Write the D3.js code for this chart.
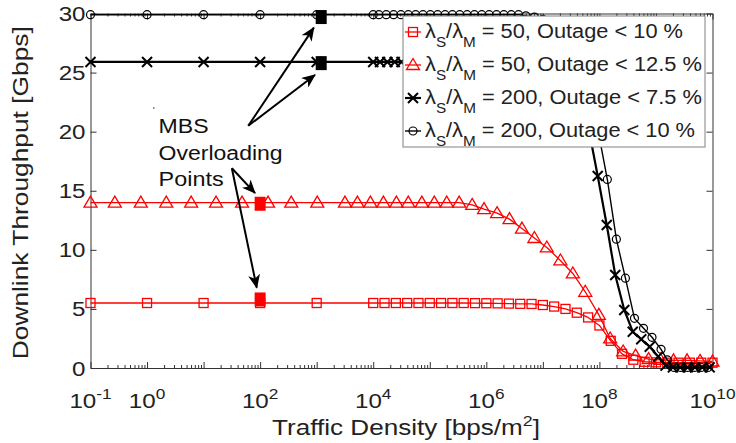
<!DOCTYPE html>
<html><head><meta charset="utf-8">
<script src="https://cdn.jsdelivr.net/npm/d3@7"></script>
<style>
body{margin:0;background:#fff}
svg{display:block}
text{font-family:"Liberation Sans",Arial,Helvetica,sans-serif;fill:#222}
</style>
</head><body>
<svg id="c" width="736" height="443"></svg>
<script>
// ---------------- DATA ----------------
// x values are given as log10 of traffic density [bps/m^2]
const sqExp = [-1,0,1,2,3,4,4.2,4.4,4.6,4.8,5.0,5.2,5.4,5.6,5.8,6.0,6.2,6.4,6.6,6.8,7.0,7.2,7.4,7.6,7.8,8.0,8.2,8.4,8.6,8.8,9.0,9.2,9.4,9.6,9.8,10.0];
const sqVal = [5.5,5.5,5.5,5.5,5.5,5.5,5.5,5.5,5.5,5.5,5.5,5.5,5.5,5.5,5.49,5.48,5.47,5.45,5.43,5.42,5.33,5.2,5.0,4.68,4.28,3.6,2.3,1.2,0.7,0.53,0.48,0.45,0.45,0.45,0.45,0.45];

const triExp = [-1,-0.57,-0.11,0.34,0.78,1.22,1.68,2.14,2.55,3.01,3.5,3.72,3.95,4.18,4.41,4.62,4.86,5.08,5.30,5.52,5.75,5.96,6.19,6.41,6.63,6.85,7.07,7.31,7.53,7.75,7.99,8.19,8.42,8.64,8.87,9.08,9.31,9.55,9.78,10.0];
const triVal = [14,14,14,14,14,14,14,14,14,14,14,14,14,14,14,14,14,14,14,14,13.8,13.45,13.1,12.6,11.8,11.0,10.2,9.1,8.0,6.45,4.5,2.5,1.4,1.05,0.75,0.7,0.65,0.65,0.6,0.55];

const crossExp = [-1,0,1,2,3,4,4.12,4.25,4.38,4.5,4.65,4.8,4.95,5.1,5.25,5.4,5.55,5.7,5.85,6.0,6.15,6.3,6.45,6.6,6.75,6.9,7.05,7.2,7.35,7.5,7.65,7.8,7.97,8.13,8.28,8.44,8.59,8.74,8.89,9.04,9.17,9.3,9.43,9.56,9.69,9.82,9.95];
const crossVal = [25.9,25.9,25.9,25.9,25.9,25.9,25.9,25.9,25.9,25.9,25.9,25.9,25.9,25.9,25.9,25.9,25.9,25.9,25.9,25.9,25.9,25.9,25.9,25.9,25.85,25.75,25.5,25.1,24.5,23.6,22.4,20.5,16.25,12.1,7.87,4.91,3.07,2.43,1.8,0.96,0.2,0.05,0.05,0.05,0.05,0.05,0.05];

const circExp = [-1,0,1,2,3,4,4.1,4.23,4.36,4.49,4.62,4.75,4.88,5.01,5.14,5.27,5.4,5.53,5.66,5.79,5.92,6.05,6.18,6.31,6.44,6.57,6.7,6.85,7.0,7.15,7.3,7.45,7.6,7.75,7.9,8.0,8.14,8.3,8.46,8.62,8.78,8.93,9.09,9.2,9.32,9.44,9.56,9.68,9.8,9.92];
const circVal = [29.9,29.9,29.9,29.9,29.9,29.9,29.9,29.9,29.9,29.9,29.9,29.9,29.9,29.9,29.9,29.9,29.9,29.9,29.9,29.9,29.9,29.9,29.9,29.9,29.9,29.9,29.8,29.7,29.5,29.2,28.7,28.0,26.9,25.2,22.3,19.5,15.96,10.9,7.6,4.2,3.36,2.6,1.58,0.68,0.05,0.05,0.05,0.05,0.05,0.05];

const seriesRatio   = [50, 50, 200, 200];
const seriesOutage  = ["10", "12.5", "7.5", "10"];

// MBS overloading points (log10 density, throughput)
const overloadExp = [2, 2, 3.08, 3.08];
const overloadVal = [5.8, 13.9, 25.8, 29.7];

const xTickExp = [-1,0,2,4,6,8,10];
const yTicks = [0,5,10,15,20,25,30];

const annotLines = ["MBS","Overloading","Points"];

// ---------------- STYLE ----------------
const ML = 90.5, MR = 712.5, MT = 13.5, MB = 368;
const RED = "#ff0000", BLK = "#000000", AXC = "#333333";
const SX = 1.15; // horizontal text stretch

const svg = d3.select("#c");
const x = d3.scaleLog().domain([1e-1, 1e10]).range([ML, MR]);
const y = d3.scaleLinear().domain([0, 30]).range([MB, MT]);

function txt(parent, px, py, sx) {
  return parent.append("text").attr("transform", `translate(${px},${py}) scale(${sx},1)`);
}

// ---------------- AXES ----------------
const decades = d3.range(-1, 11).map(e => Math.pow(10, e));
const minors = [];
for (let e = -1; e < 10; e++) for (let k = 2; k <= 9; k++) minors.push(k * Math.pow(10, e));

const axG = svg.append("g");
function styleAxis(g) {
  g.selectAll("path.domain").attr("stroke", AXC).attr("stroke-width", 1);
  g.selectAll(".tick line").attr("stroke", AXC).attr("stroke-width", 1);
  g.selectAll(".tick text").remove();
}
axG.append("g").attr("transform", `translate(0,${MB})`)
  .call(d3.axisBottom(x).tickValues(decades).tickSize(-6).tickSizeOuter(0).tickFormat("")).call(styleAxis);
axG.append("g").attr("transform", `translate(0,${MB})`)
  .call(d3.axisBottom(x).tickValues(minors).tickSize(-3).tickSizeOuter(0).tickFormat("")).call(styleAxis)
  .select("path.domain").remove();
axG.append("g").attr("transform", `translate(0,${MT})`)
  .call(d3.axisTop(x).tickValues(decades).tickSize(-6).tickSizeOuter(0).tickFormat("")).call(styleAxis);
axG.append("g").attr("transform", `translate(0,${MT})`)
  .call(d3.axisTop(x).tickValues(minors).tickSize(-3).tickSizeOuter(0).tickFormat("")).call(styleAxis)
  .select("path.domain").remove();
axG.append("g").attr("transform", `translate(${ML},0)`)
  .call(d3.axisLeft(y).tickValues(yTicks).tickSize(-6).tickSizeOuter(0).tickFormat("")).call(styleAxis);
axG.append("g").attr("transform", `translate(${MR},0)`)
  .call(d3.axisRight(y).tickValues(yTicks).tickSize(-6).tickSizeOuter(0).tickFormat("")).call(styleAxis);

// tick labels
xTickExp.forEach(e => {
  const t = txt(svg, x(Math.pow(10, e)), 408, SX).attr("text-anchor", "middle").attr("font-size", 21);
  t.append("tspan").text("10");
  t.append("tspan").attr("dy", -9).attr("font-size", 15).text(String(e));
});
yTicks.forEach(v => {
  txt(svg, ML - 5, y(v) + 7.5, SX).attr("text-anchor", "end").attr("font-size", 21).text(v);
});

// axis titles
const xt = svg.append("text").attr("x", 406).attr("y", 435).attr("text-anchor", "middle")
  .attr("font-size", 22).attr("textLength", 268).attr("lengthAdjust", "spacingAndGlyphs");
xt.append("tspan").text("Traffic Density [bps/m");
xt.append("tspan").attr("dy", -9).attr("font-size", 15).text("2");
xt.append("tspan").attr("dy", 9).text("]");

svg.append("text").attr("transform", `translate(28,${(MT + MB) / 2 + 2}) rotate(-90)`)
  .attr("text-anchor", "middle").attr("font-size", 22)
  .attr("textLength", 333).attr("lengthAdjust", "spacingAndGlyphs")
  .text("Downlink Throughput [Gbps]");

// ---------------- MARKERS ----------------
function marker(g, type, cx, cy, color) {
  if (type === "square") {
    g.append("rect").attr("x", cx - 4.5).attr("y", cy - 4.5).attr("width", 9).attr("height", 9)
      .attr("fill", "none").attr("stroke", color).attr("stroke-width", 1.3);
  } else if (type === "tri") {
    g.append("path").attr("d", `M${cx},${cy - 6.5}L${cx + 6.5},${cy + 4.5}L${cx - 6.5},${cy + 4.5}Z`)
      .attr("fill", "none").attr("stroke", color).attr("stroke-width", 1.3);
  } else if (type === "cross") {
    g.append("path").attr("d", `M${cx - 5},${cy - 5}L${cx + 5},${cy + 5}M${cx - 5},${cy + 5}L${cx + 5},${cy - 5}`)
      .attr("stroke", color).attr("stroke-width", 2);
  } else {
    g.append("circle").attr("cx", cx).attr("cy", cy).attr("r", 4)
      .attr("fill", "none").attr("stroke", color).attr("stroke-width", 1.2);
  }
}

const series = [
  { xs: sqExp, ys: sqVal, type: "square", color: RED, lw: 1.3 },
  { xs: triExp, ys: triVal, type: "tri", color: RED, lw: 1.3 },
  { xs: crossExp, ys: crossVal, type: "cross", color: BLK, lw: 2.2 },
  { xs: circExp, ys: circVal, type: "circle", color: BLK, lw: 1.4 }
];

const line = d3.line().x(d => x(Math.pow(10, d[0]))).y(d => y(d[1]));
const dataG = svg.append("g");
series.forEach(s => {
  const pts = s.xs.map((e, i) => [e, s.ys[i]]);
  dataG.append("path").attr("d", line(pts)).attr("fill", "none")
    .attr("stroke", s.color).attr("stroke-width", s.lw).attr("stroke-linejoin", "round");
  const mg = dataG.append("g");
  pts.forEach(p => marker(mg, s.type, x(Math.pow(10, p[0])), y(p[1]), s.color));
});

// overloading points (filled squares)
overloadExp.forEach((e, i) => {
  const cx = x(Math.pow(10, e)), cy = y(overloadVal[i]);
  dataG.append("rect").attr("x", cx - 5.5).attr("y", cy - 7).attr("width", 11).attr("height", 14)
    .attr("fill", i < 2 ? RED : BLK);
});

// ---------------- ANNOTATION ----------------
const defs = svg.append("defs");
defs.append("marker").attr("id", "ah").attr("markerUnits", "userSpaceOnUse")
  .attr("viewBox", "0 0 14 12").attr("markerWidth", 14).attr("markerHeight", 12)
  .attr("refX", 13).attr("refY", 6).attr("orient", "auto")
  .append("path").attr("d", "M0,0L14,6L0,12L4,6Z").attr("fill", "#000");

// arrows in data coordinates: [tailExp, tailVal, headExp, headVal]
const arrows = [
  [1.79, 20.5, 2.95, 28.8],
  [1.79, 20.5, 2.97, 24.8],
  [1.50, 16.9, 1.91, 14.8],
  [1.50, 16.9, 1.94, 6.8]
];
arrows.forEach(a => {
  svg.append("line").attr("x1", x(Math.pow(10, a[0]))).attr("y1", y(a[1]))
    .attr("x2", x(Math.pow(10, a[2]))).attr("y2", y(a[3]))
    .attr("stroke", "#000").attr("stroke-width", 2).attr("marker-end", "url(#ah)");
});
const annotW = [50, 124, 65];
annotLines.forEach((s, i) => {
  svg.append("text").attr("x", x(Math.pow(10, 0.205))).attr("y", 133 + i * 26.5)
    .attr("font-size", 20).attr("textLength", annotW[i]).attr("lengthAdjust", "spacingAndGlyphs")
    .style("fill", "#111").text(s);
});
svg.append("circle").attr("cx", x(Math.pow(10, 0.12))).attr("cy", y(22.0)).attr("r", 0.8).attr("fill", "#333");

// ---------------- LEGEND ----------------
const lg = svg.append("g");
lg.append("rect").attr("x", 403).attr("y", 16).attr("width", 302).attr("height", 131)
  .attr("fill", "#fff").attr("stroke", "#808080").attr("stroke-width", 1);
const legW = [258, 277, 277, 270];
series.forEach((s, i) => {
  const cy = 32 + i * 33;
  lg.append("line").attr("x1", 405).attr("x2", 421).attr("y1", cy).attr("y2", cy)
    .attr("stroke", s.color).attr("stroke-width", s.lw);
  marker(lg, s.type, 413, cy, s.color);
  const t = lg.append("text").attr("x", 425).attr("y", cy + 6).attr("font-size", 20)
    .attr("textLength", legW[i]).attr("lengthAdjust", "spacingAndGlyphs");
  t.append("tspan").text("λ");
  t.append("tspan").attr("dy", 9).attr("font-size", 14).text("S");
  t.append("tspan").attr("dy", -9).text("/λ");
  t.append("tspan").attr("dy", 9).attr("font-size", 14).text("M");
  t.append("tspan").attr("dy", -9).text(` = ${seriesRatio[i]}, Outage < ${seriesOutage[i]} %`);
});
</script>
</body></html>
